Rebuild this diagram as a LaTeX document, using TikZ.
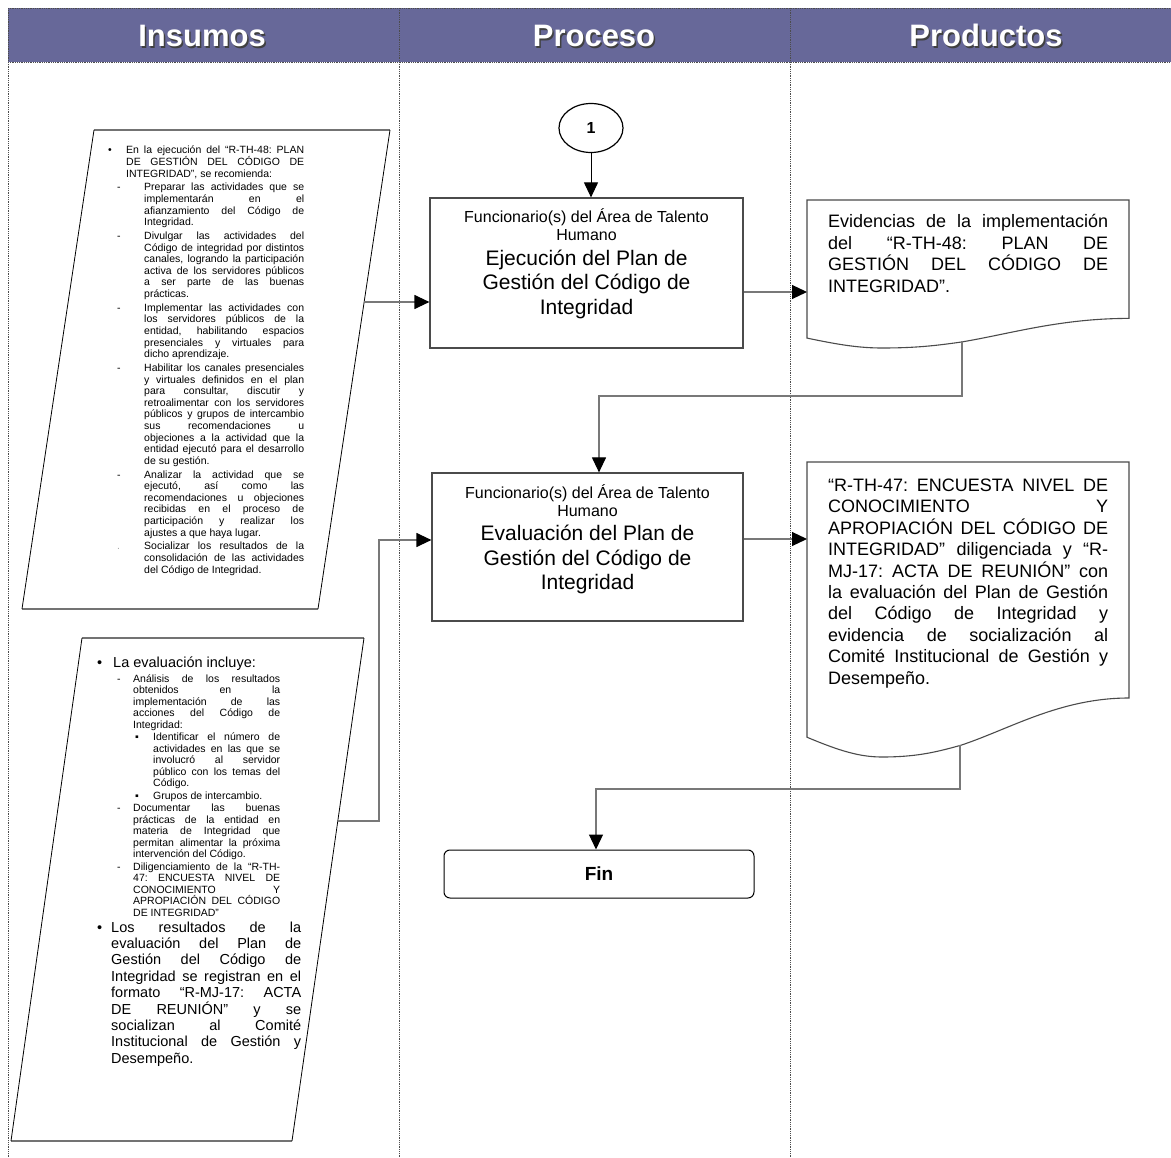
\documentclass[tikz,border=0pt]{standalone}
\usepackage{fontspec}
\setmainfont{Liberation Sans}
\usetikzlibrary{arrows.meta,calc,shapes.geometric}
\definecolor{hdr}{RGB}{103,104,153}
\definecolor{conncol}{RGB}{120,120,120}
\definecolor{boxcol}{RGB}{75,75,75}
\frenchspacing

\newcommand{\itm}[3]{\par\hangindent=#2\relax\hangafter=1\relax\noindent\hbox to #2{\hskip#1\relax#3\hfil}\ignorespaces}
\newcommand{\blk}[4]{\begin{minipage}[t]{#1}\frenchspacing\fontsize{#2}{#3}\selectfont\lineskiplimit=-20pt\lineskip=0pt\tolerance=10000\hbadness=10000\hyphenpenalty=10000\exhyphenpenalty=10000\parindent=0pt\relax #4\end{minipage}}
\newcommand{\docshape}[2]{%
  \filldraw[docline] (807,#1) -- (1129,#1) -- (1129,{#1+0.8*#2})
    .. controls (1060,{#1+0.8*#2}) and (1010,{#1+0.905*#2}) .. (961,{#1+0.96*#2})
    .. controls (935,{#1+0.985*#2}) and (915,{#1+#2}) .. (882,{#1+#2})
    .. controls (860,{#1+#2}) and (840,{#1+0.98*#2}) .. (807,{#1+0.933*#2}) -- cycle;}

\begin{document}
\begin{tikzpicture}[x=1pt,y=-1pt,
  coldiv/.style={draw=black!70, line width=0.8pt, dash pattern=on 0.9pt off 0.9pt},
  hdrtxt/.style={font=\fontsize{31}{34}\selectfont\bfseries, inner sep=0, anchor=base},
  procbox/.style={draw=boxcol, fill=white, line width=1.2pt, minimum width=313pt, minimum height=150pt, inner sep=0},
  docline/.style={draw=boxcol, fill=white, line width=1.1pt},
  txt/.style={inner sep=0, anchor=base west},
  conn/.style={draw=conncol, line width=1.2pt, -{Triangle[length=15pt,width=14pt,color=black]}},
  connb/.style={draw=black, line width=1pt, -{Triangle[length=15pt,width=14pt,color=black]}},
]
\useasboundingbox (0,0) rectangle (1171,1158);
\fill[white] (0,0) rectangle (1171,1158);

% header
\fill[hdr] (8,8) rectangle (1171,62);
\draw[coldiv] (8,8) -- (1171,8);
\draw[coldiv] (8,62) -- (1171,62);
\foreach \xx in {8,399,790} \draw[coldiv] (\xx,8) -- (\xx,1158);
\node[hdrtxt, text=black!75] at (203.5,48.5) {Insumos};
\node[hdrtxt, text=white] (h1) at (202,47) {Insumos};
\node[hdrtxt, text=black!75] at (595.5,48.5) {Proceso};
\node[hdrtxt, text=white] (h2) at (594,47) {Proceso};
\node[hdrtxt, text=black!75] at (987.5,48.5) {Productos};
\node[hdrtxt, text=white] (h3) at (986,47) {Productos};

% parallelogram 1
\fill[white] (94,130) -- (390,130) -- (318,609) -- (22,609) -- cycle;
\draw[black!55, line width=1.6pt] (94,130) -- (390,130);
\draw[black!55, line width=1.6pt] (22,609) -- (318,609);
\draw[black, line width=0.8pt] (390,130) -- (318,609);
\draw[black, line width=0.8pt] (94,130) -- (22,609);
\coordinate (p1r) at (364,302);

% parallelogram 2
\fill[white] (82,638) -- (364,638) -- (292,1141) -- (11,1141) -- cycle;
\draw[black!55, line width=1.6pt] (82,638) -- (364,638);
\draw[black!55, line width=1.6pt] (11,1141) -- (292,1141);
\draw[black, line width=0.8pt] (364,638) -- (292,1141);
\draw[black, line width=0.8pt] (82,638) -- (11,1141);
\coordinate (p2r) at (338,821);
\coordinate (j2) at (379,821);

% texts of parallelogram 1
\node[txt] (t1) at (108,154) {\blk{196pt}{10.5}{11.6}{\parskip=2.2pt
\itm{0pt}{18pt}{\textbullet}En la ejecución del “R-TH-48: PLAN\linebreak DE GESTIÓN DEL CÓDIGO DE\linebreak INTEGRIDAD”, se recomienda:
\itm{9pt}{36pt}{-}Preparar las actividades que se\linebreak implementarán en el\linebreak afianzamiento del Código de\linebreak Integridad.
\itm{9pt}{36pt}{-}Divulgar las actividades del\linebreak Código de integridad por distintos\linebreak canales, logrando la participación\linebreak activa de los servidores públicos\linebreak a ser parte de las buenas\linebreak prácticas.
\itm{9pt}{36pt}{-}Implementar las actividades con\linebreak los servidores públicos de la\linebreak entidad, habilitando espacios\linebreak presenciales y virtuales para\linebreak dicho aprendizaje.
\itm{9pt}{36pt}{-}Habilitar los canales presenciales\linebreak y virtuales definidos en el plan\linebreak para consultar, discutir y\linebreak retroalimentar con los servidores\linebreak públicos y grupos de intercambio\linebreak sus recomendaciones u\linebreak objeciones a la actividad que la\linebreak entidad ejecutó para el desarrollo\linebreak de su gestión.
\itm{9pt}{36pt}{-}Analizar la actividad que se\linebreak ejecutó, así como las\linebreak recomendaciones u objeciones\linebreak recibidas en el proceso de\linebreak participación y realizar los\linebreak ajustes a que haya lugar.
\itm{9pt}{36pt}{\textcolor{black!35}{.}}Socializar los resultados de la\linebreak consolidación de las actividades\linebreak del Código de Integridad.\par}};

% texts of parallelogram 2
\node[txt] (t2a) at (97,667) {\blk{204pt}{14.5}{16.4}{\itm{0pt}{16pt}{\textbullet}La evaluación incluye:\par}};
\node[txt] (t2b) at (117,682) {\blk{163pt}{10.5}{11.5}{\parskip=1pt
\itm{0pt}{16pt}{-}Análisis de los resultados\linebreak obtenidos en la\linebreak implementación de las\linebreak acciones del Código de\linebreak Integridad:
\itm{18pt}{36pt}{\char"25AA}Identificar el número de\linebreak actividades en las que se\linebreak involucró al servidor\linebreak público con los temas del\linebreak Código.
\itm{18pt}{36pt}{\char"25AA}Grupos de intercambio.
\itm{0pt}{16pt}{-}Documentar las buenas\linebreak prácticas de la entidad en\linebreak materia de Integridad que\linebreak permitan alimentar la próxima\linebreak intervención del Código.
\itm{0pt}{16pt}{-}Diligenciamiento de la “R-TH-\linebreak 47: ENCUESTA NIVEL DE\linebreak CONOCIMIENTO Y\linebreak APROPIACIÓN DEL CÓDIGO\linebreak DE INTEGRIDAD”\par}};
\node[txt] (t2c) at (97,932) {\blk{204pt}{14.5}{16.4}{\itm{0pt}{14pt}{\textbullet}Los resultados de la\linebreak evaluación del Plan de\linebreak Gestión del Código de\linebreak Integridad se registran en el\linebreak formato “R-MJ-17: ACTA\linebreak DE REUNIÓN” y se\linebreak socializan al Comité\linebreak Institucional de Gestión y\linebreak Desempeño.\par}};

% process column
\node[draw=black, line width=1.2pt, ellipse, minimum width=64pt, minimum height=49pt, inner sep=0, font=\fontsize{16}{18}\selectfont\bfseries] (c1) at (591,128) {1};
\node[procbox] (b1) at (586.5,273) {};
\node[inner sep=0, anchor=base] (b1t) at (586.5,223) {\blk{300pt}{16}{18}{\centering Funcionario(s) del Área de Talento\\Humano\par\fontsize{21}{24.5}\selectfont Ejecución del Plan de\\Gestión del Código de\\Integridad\par}};
\node[procbox, minimum width=311pt, minimum height=148pt] (b2) at (587.5,547) {};
\node[inner sep=0, anchor=base] (b2t) at (587.5,498) {\blk{300pt}{16}{18}{\centering Funcionario(s) del Área de Talento\\Humano\par\fontsize{21}{24.5}\selectfont Evaluación del Plan de\\Gestión del Código de\\Integridad\par}};
\node[draw=black, line width=1pt, rounded corners=6pt, minimum width=310pt, minimum height=48pt, inner sep=0, font=\fontsize{19}{22}\selectfont\bfseries] (fin) at (599,874) {Fin};

% products
\docshape{200}{148}
\docshape{462}{295}
\coordinate (d1in) at (807,292);
\coordinate (d2in) at (807,539);
\coordinate (d1out) at (962,341);
\coordinate (d2out) at (960,745);
\node[txt] (d1t) at (828,228) {\blk{280pt}{18}{21.5}{Evidencias de la implementación\linebreak del “R-TH-48: PLAN DE\linebreak GESTIÓN DEL CÓDIGO DE\linebreak INTEGRIDAD”.\par}};
\node[txt] (d2t) at (828,491.5) {\blk{280pt}{18}{21.4}{“R-TH-47: ENCUESTA NIVEL DE\linebreak CONOCIMIENTO Y\linebreak APROPIACIÓN DEL CÓDIGO DE\linebreak INTEGRIDAD” diligenciada y “R-\linebreak MJ-17: ACTA DE REUNIÓN” con\linebreak la evaluación del Plan de Gestión\linebreak del Código de Integridad y\linebreak evidencia de socialización al\linebreak Comité Institucional de Gestión y\linebreak Desempeño.\par}};

% connectors
\draw[connb] (c1.south) -- (c1.south |- b1.north);
\draw[conn] (p1r) -- (p1r -| b1.west);
\draw[conn] (d1in -| b1.east) -- (d1in);
\draw[conn] (d1out) -- ++(0,55) -| ([xshift=11.5pt]b2.north);
\draw[conn] (p2r) -- (j2) |- ([yshift=7pt]b2.west);
\draw[conn] (d2in -| b2.east) -- (d2in);
\draw[conn] (d2out) -- ++(0,44) -| ([xshift=-3pt]fin.north);
\end{tikzpicture}
\end{document}
